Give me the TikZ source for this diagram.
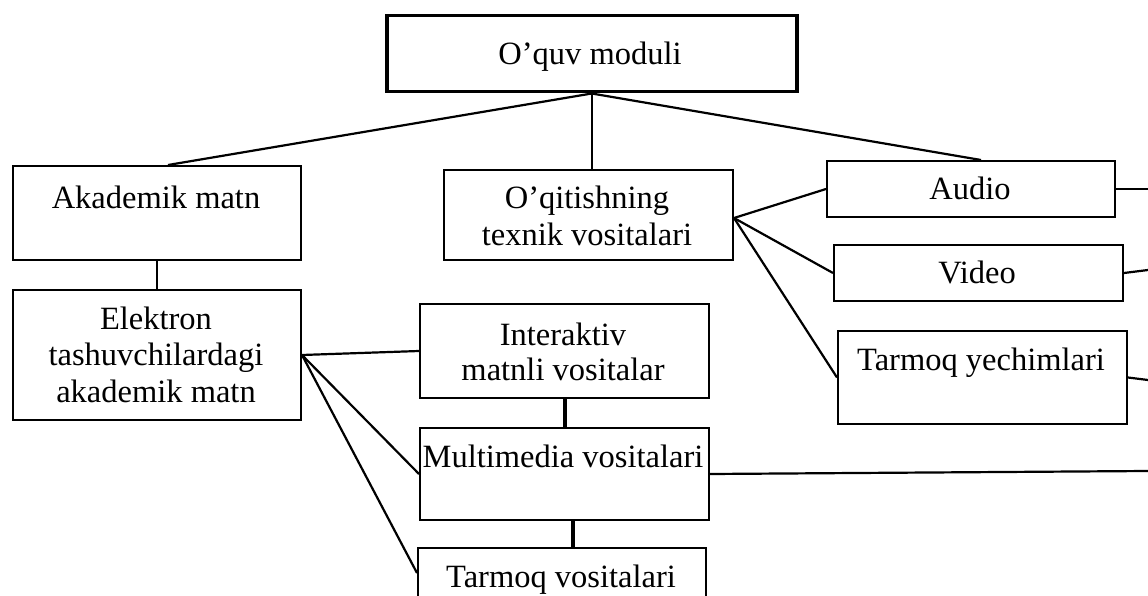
\documentclass[tikz,border=0pt]{standalone}
\usepackage{fontspec}
\setmainfont{Liberation Serif}
\begin{document}
\begin{tikzpicture}[x=1pt,y=-1pt,
  box/.style={draw=black, line width=2pt, rectangle, inner sep=0pt, anchor=north west},
  lbl/.style={font=\fontsize{32.5}{36.5}\selectfont, inner sep=0pt, anchor=base, align=center},
  con/.style={line width=2.2pt},
  thickcon/.style={line width=4pt}]
\useasboundingbox (0,0) rectangle (1148,596);
\clip (0,0) rectangle (1148,596);
% boxes
\node[box, line width=3.5pt, minimum width=410pt, minimum height=76pt] (top) at (385,14) {};
\node[box, minimum width=288pt, minimum height=94pt] (akad) at (12,165) {};
\node[box, minimum width=288pt, minimum height=130pt] (elek) at (12,289) {};
\node[box, minimum width=289pt, minimum height=90pt] (oqit) at (443,169) {};
\node[box, minimum width=288pt, minimum height=56pt] (audio) at (826,160) {};
\node[box, minimum width=289pt, minimum height=56pt] (video) at (833,244) {};
\node[box, minimum width=289pt, minimum height=93pt] (tyech) at (837,330) {};
\node[box, minimum width=289pt, minimum height=94pt] (inter) at (419,303) {};
\node[box, minimum width=289pt, minimum height=92pt] (multi) at (419,427) {};
\node[box, minimum width=288pt, minimum height=70pt] (tvos) at (417,547) {};
% labels (anchor = baseline of the last line)
\node[lbl] (ltop) at (590,65) {O’quv moduli};
\node[lbl] (lakad) at (156,208) {Akademik matn};
\node[lbl] (lelek) at (156,402) {Elektron\\tashuvchilardagi\\akademik matn};
\node[lbl] (loqit) at (587,245) {O’qitishning\\texnik vositalari};
\node[lbl] (laudio) at (970,200) {Audio};
\node[lbl] (lvideo) at (977,283) {Video};
\node[lbl] (ltyech) at (981,370) {Tarmoq yechimlari};
\node[lbl, font=\fontsize{32.5}{35}\selectfont] (linter) at (563,380) {Interaktiv\\matnli vositalar};
\node[lbl] (lmulti) at (563,467) {Multimedia vositalari};
\node[lbl] (ltvos) at (561,587) {Tarmoq vositalari};
% free ends at the right edge
\coordinate (eA) at (1148,189);
\coordinate (eV) at (1148,270);
\coordinate (eT) at (1148,380);
\coordinate (eM) at (1148,471);
% connectors
\draw[con] (top.south) -- ([xshift=11pt]akad.north);
\draw[con] (top.south) -- (top.south |- oqit.north);
\draw[con] (top.south) -- ([xshift=10pt]audio.north);
\draw[con] (akad.south) -- (elek.north);
\draw[con] (elek.east) -- (inter.west);
\draw[con] (elek.east) -- (multi.west);
\draw[con] (elek.east) -- ([yshift=-26pt]tvos.north west);
\draw[thickcon] (inter.south) -- (multi.north);
\draw[thickcon] ([xshift=8.5pt]multi.south) -- ([xshift=8.5pt]multi.south |- tvos.north);
\draw[con] ([yshift=-3pt]oqit.east) -- (audio.west);
\draw[con] ([yshift=-3pt]oqit.east) -- (video.west);
\draw[con] ([yshift=-3pt]oqit.east) -- (tyech.west);
\draw[con] (audio.east) -- (eA);
\draw[con] (video.east) -- (eV);
\draw[con] (tyech.east) -- (eT);
\draw[con] (multi.east) -- (eM);
\end{tikzpicture}
\end{document}
